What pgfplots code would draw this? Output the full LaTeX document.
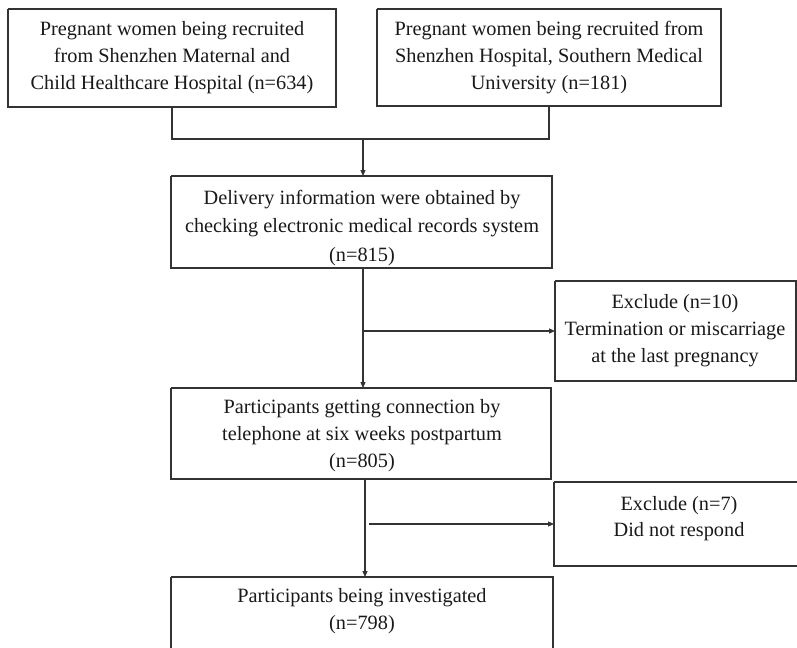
\documentclass[border=0pt]{standalone}
\usepackage{pgfplots}
\pgfplotsset{compat=1.18}
\usepackage{fontspec}
\setmainfont{Liberation Serif}
\usetikzlibrary{arrows.meta}
\tikzset{txt/.style={font=\fontsize{20.3bp}{27bp}\selectfont, align=center, text=black!90, anchor=center}}
\begin{document}
\begin{tikzpicture}
\begin{axis}[
  width=797bp, height=648bp, scale only axis,
  xmin=0, xmax=797, ymin=0, ymax=648, y dir=reverse,
  axis lines=none, clip=true,
  every axis plot/.append style={line width=1.1pt, color=black!80},
]
% boxes
\addplot[sharp plot] coordinates {(8,9)(336,9)(336,107)(8,107)(8,9)};
\addplot[sharp plot] coordinates {(377,9)(721,9)(721,106)(377,106)(377,9)};
\addplot[sharp plot] coordinates {(171,176)(552,176)(552,268)(171,268)(171,176)};
\addplot[sharp plot] coordinates {(555,281)(796,281)(796,381)(555,381)(555,281)};
\addplot[sharp plot] coordinates {(171,388)(551,388)(551,479)(171,479)(171,388)};
\addplot[sharp plot] coordinates {(554,482)(800,482)(800,566)(554,566)(554,482)};
\addplot[sharp plot] coordinates {(171,577)(553,577)(553,660)(171,660)(171,577)};
% connectors
\addplot[sharp plot] coordinates {(172,107)(172,139)(549,139)(549,106)};
\addplot[sharp plot, -{Triangle[length=6bp,width=5bp]}] coordinates {(363,139)(363,176)};
\addplot[sharp plot, -{Triangle[length=6bp,width=5bp]}] coordinates {(363,268)(363,388)};
\addplot[sharp plot, -{Triangle[length=6bp,width=5bp]}] coordinates {(363,331)(555,331)};
\addplot[sharp plot, -{Triangle[length=6bp,width=5bp]}] coordinates {(365,479)(365,577)};
\addplot[sharp plot, -{Triangle[length=6bp,width=5bp]}] coordinates {(369,524)(554,524)};
% texts
\node[txt] at (axis cs:172,58) {Pregnant women being recruited\\from Shenzhen Maternal and\\Child Healthcare Hospital (n=634)};
\node[txt] at (axis cs:549,58) {Pregnant women being recruited from\\Shenzhen Hospital, Southern Medical\\University (n=181)};
\node[txt, font=\fontsize{20.3bp}{28.5bp}\selectfont] at (axis cs:362,228) {Delivery information were obtained by\\checking electronic medical records system\\(n=815)};
\node[txt] at (axis cs:675,331) {Exclude (n=10)\\Termination or miscarriage\\at the last pregnancy};
\node[txt] at (axis cs:362,436) {Participants getting connection by\\telephone at six weeks postpartum\\(n=805)};
\node[txt, font=\fontsize{20.3bp}{26bp}\selectfont] at (axis cs:679,519) {Exclude (n=7)\\Did not respond};
\node[txt] at (axis cs:362,611) {Participants being investigated\\(n=798)};
\end{axis}
\path[use as bounding box] (current axis.south west) rectangle (current axis.north east);
\end{tikzpicture}
\end{document}
